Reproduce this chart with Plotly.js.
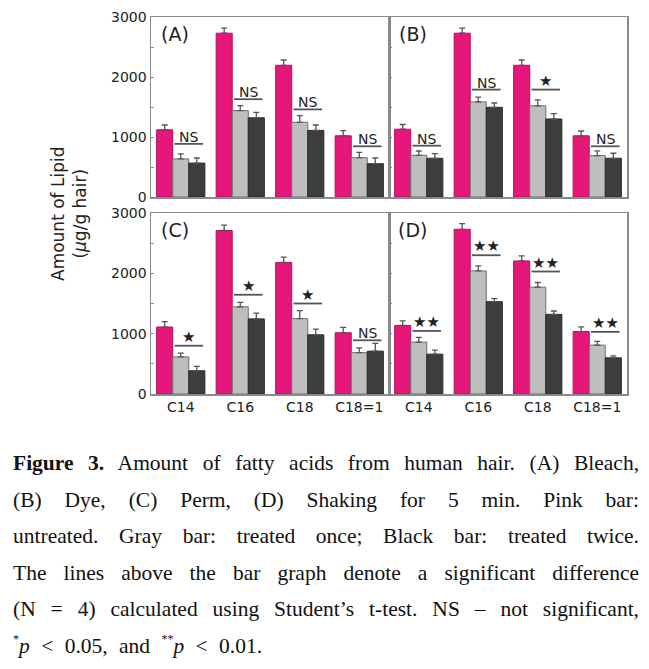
<!DOCTYPE html>
<html>
<head>
<meta charset="utf-8">
<script src="https://cdn.plot.ly/plotly-3.0.1.min.js"></script>
<style>
  html, body { margin: 0; padding: 0; background: #fff; }
  #wrap { position: relative; width: 649px; height: 669px; overflow: hidden; }
  #chart { position: absolute; left: 0; top: 0; width: 649px; height: 669px; }
  #caption { position: absolute; left: 13px; top: 445px; width: 626px;
             font-family: "Liberation Serif", "Times New Roman", serif; font-size: 21.5px;
             line-height: 36.5px; color: #111; }
  #caption .ln { text-align: justify; text-align-last: justify; white-space: nowrap; }
  #caption .last { text-align: left; word-spacing: 6px; white-space: nowrap; }
  #caption sup { font-size: 12px; vertical-align: 10px; line-height: 0; }
</style>
</head>
<body>
<div id="wrap">
  <div id="chart"></div>
  <div id="caption">
    <div class="ln"><b>Figure 3.</b> Amount of fatty acids from human hair. (A) Bleach,</div>
    <div class="ln">(B) Dye, (C) Perm, (D) Shaking for 5 min. Pink bar:</div>
    <div class="ln">untreated. Gray bar: treated once; Black bar: treated twice.</div>
    <div class="ln">The lines above the bar graph denote a significant difference</div>
    <div class="ln">(N = 4) calculated using Student’s t-test. NS – not significant,</div>
    <div class="last"><sup>*</sup><i>p</i> &lt; 0.05, and <sup>**</sup><i>p</i> &lt; 0.01.</div>
  </div>
</div>
<script>
// ---- Data ----
const categories = ['C14', 'C16', 'C18', 'C18=1'];
const yTickVals = [0, 500, 1000, 1500, 2000, 2500, 3000];
const yTickText = ['0', '', '1000', '', '2000', '', '3000'];
const seriesNames = ['Untreated', 'Treated once', 'Treated twice'];

// (A) Bleach
const A_untreated = [1120, 2730, 2195, 1020];
const A_untreated_err = [80, 85, 88, 85];
const A_once = [635, 1440, 1245, 655];
const A_once_err = [83, 83, 110, 88];
const A_twice = [565, 1320, 1110, 555];
const A_twice_err = [85, 90, 90, 95];
const A_sigY = [885, 1630, 1460, 845];
const A_sigLabel = ['NS', 'NS', 'NS', 'NS'];

// (B) Dye
const B_untreated = [1130, 2730, 2195, 1020];
const B_untreated_err = [78, 83, 88, 80];
const B_once = [695, 1585, 1520, 690];
const B_once_err = [72, 78, 100, 78];
const B_twice = [645, 1495, 1300, 645];
const B_twice_err = [78, 72, 90, 84];
const B_sigY = [855, 1790, 1790, 845];
const B_sigLabel = ['NS', 'NS', '★', 'NS'];

// (C) Perm
const C_untreated = [1110, 2710, 2180, 1015];
const C_untreated_err = [90, 88, 90, 88];
const C_once = [615, 1445, 1250, 685];
const C_once_err = [62, 72, 132, 78];
const C_twice = [385, 1245, 980, 710];
const C_twice_err = [72, 95, 95, 128];
const C_sigY = [800, 1645, 1500, 890];
const C_sigLabel = ['★', '★', '★', 'NS'];

// (D) Shaking for 5 min
const D_untreated = [1135, 2730, 2205, 1035];
const D_untreated_err = [78, 94, 84, 78];
const D_once = [860, 2040, 1770, 810];
const D_once_err = [78, 83, 78, 62];
const D_twice = [660, 1530, 1320, 600];
const D_twice_err = [68, 50, 56, 33];
const D_sigY = [1045, 2300, 2030, 1030];
const D_sigLabel = ['★★', '★★', '★★', '★★'];

const panelLabels = ['(A)', '(B)', '(C)', '(D)'];

// ---- Styles ----
const barColors = ['#e5177a', '#bdbebd', '#3c3e3d'];
const barLines = ['#b0105c', '#6f6f6f', '#2a2a2a'];
const BARGAP = 0.19;
const BW = (1 - BARGAP) / 3;

const panels = [
  { vals: [A_untreated, A_once, A_twice], errs: [A_untreated_err, A_once_err, A_twice_err], sigY: A_sigY, sig: A_sigLabel },
  { vals: [B_untreated, B_once, B_twice], errs: [B_untreated_err, B_once_err, B_twice_err], sigY: B_sigY, sig: B_sigLabel },
  { vals: [C_untreated, C_once, C_twice], errs: [C_untreated_err, C_once_err, C_twice_err], sigY: C_sigY, sig: C_sigLabel },
  { vals: [D_untreated, D_once, D_twice], errs: [D_untreated_err, D_once_err, D_twice_err], sigY: D_sigY, sig: D_sigLabel }
];

const W = 649, H = 669;
const px = v => v / W;
const py = v => 1 - v / H;
const domains = [
  { x: [px(151), px(389)], y: [py(197), py(17)] },
  { x: [px(389), px(627)], y: [py(197), py(17)] },
  { x: [px(151), px(389)], y: [py(394), py(213)] },
  { x: [px(389), px(627)], y: [py(394), py(213)] }
];

const traces = [];
const shapes = [];
const annotations = [];
const layout = {
  width: W, height: H,
  margin: { l: 0, r: 0, t: 0, b: 0 },
  paper_bgcolor: 'rgba(0,0,0,0)',
  plot_bgcolor: '#fff',
  showlegend: false,
  barmode: 'group',
  bargap: BARGAP,
  bargroupgap: 0,
  font: { family: 'DejaVu Sans, sans-serif', size: 14, color: '#222' }
};

panels.forEach((p, i) => {
  const n = i + 1;
  const xa = n === 1 ? 'x' : 'x' + n;
  const ya = n === 1 ? 'y' : 'y' + n;
  p.vals.forEach((v, s) => {
    traces.push({
      type: 'bar', name: seriesNames[s], x: categories, y: v,
      xaxis: xa, yaxis: ya,
      marker: { color: barColors[s], line: { color: barLines[s], width: 1 } },
      error_y: { type: 'data', symmetric: false, array: p.errs[s], arrayminus: p.errs[s].map(() => 0),
                 color: '#555', thickness: 1.3, width: 3 },
      hoverinfo: 'y'
    });
  });
  const bottom = n >= 3, left = (n % 2) === 1;
  layout['xaxis' + (n === 1 ? '' : n)] = {
    domain: domains[i].x, anchor: ya, type: 'category', range: [-0.5, 3.5],
    showline: true, mirror: true, linecolor: '#8a8a8a', linewidth: 1.5,
    ticks: '', showticklabels: bottom, showgrid: false, zeroline: false,
    tickfont: { family: 'DejaVu Sans, sans-serif', size: 14, color: '#222' }
  };
  layout['yaxis' + (n === 1 ? '' : n)] = {
    domain: domains[i].y, anchor: xa, range: [0, 3000],
    tickmode: 'array', tickvals: yTickVals, ticktext: yTickText,
    ticks: 'inside', ticklen: 3, tickcolor: '#8a8a8a', tickwidth: 1,
    showline: true, mirror: true, linecolor: '#8a8a8a', linewidth: 1.5,
    showticklabels: left, showgrid: false, zeroline: false,
    tickfont: { family: 'DejaVu Sans, sans-serif', size: 14, color: '#222' }
  };
  // significance lines and labels
  p.sigY.forEach((yv, c) => {
    shapes.push({
      type: 'line', xref: xa, yref: ya,
      x0: c - BW / 2 + 0.03, x1: c + 1.5 * BW - 0.03, y0: yv, y1: yv,
      line: { color: '#555', width: 1.8 }
    });
    const isNS = p.sig[c] === 'NS';
    annotations.push({
      xref: xa, yref: ya, x: c + BW / 2, y: yv, text: p.sig[c],
      showarrow: false, xanchor: 'center', yanchor: 'bottom', yshift: isNS ? -3 : -2,
      font: { family: 'DejaVu Sans, sans-serif', size: isNS ? 14 : 15, color: '#222' }
    });
  });
  annotations.push({
    xref: xa + ' domain', yref: ya + ' domain', x: 0.1, y: 0.905,
    text: panelLabels[i], showarrow: false, xanchor: 'center', yanchor: 'middle',
    font: { family: 'DejaVu Sans, sans-serif', size: 19, color: '#222' }
  });
});

annotations.push({
  xref: 'paper', yref: 'paper', x: px(69), y: py(214),
  text: 'Amount of Lipid<br>(<i>μ</i>g/g hair)', textangle: -90,
  showarrow: false, xanchor: 'center', yanchor: 'middle',
  font: { family: 'DejaVu Sans, sans-serif', size: 17, color: '#222' }
});

layout.shapes = shapes;
layout.annotations = annotations;

Plotly.newPlot('chart', traces, layout, { staticPlot: true, displayModeBar: false });
</script>
</body>
</html>
